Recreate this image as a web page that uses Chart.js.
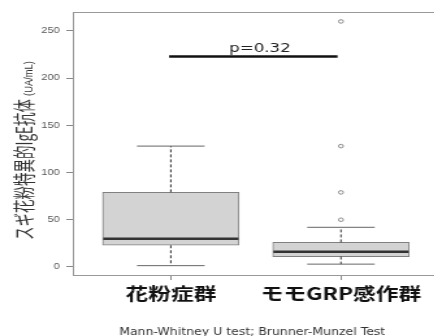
<!doctype html>
<html>
<head>
<meta charset="utf-8">
<title>Box Plot</title>
<script src="https://cdn.jsdelivr.net/npm/chart.js@4.4.0/dist/chart.umd.min.js"></script>
<style>
  html, body { margin: 0; padding: 0; background: #fff; overflow: hidden; }
  /* the source picture is stretched sideways, so draw narrow and widen */
  #wrap { width: 334px; height: 336px; transform: scaleX(1.3); transform-origin: 0 0; }
  #box-chart { display: block; }
</style>
</head>
<body>
<div id="wrap"><canvas id="box-chart" width="334" height="336"></canvas></div>
<script>

// values
var categories = ['花粉症群', 'モモGRP感作群'];
var whiskerLow = [1.4, 3];
var q1 = [23, 11];
var median = [30, 16];
var q3 = [79, 26];
var whiskerHigh = [128, 42];
var outliers = [[], [50, 79, 128, 260]];
var yTicks = [0, 50, 100, 150, 200, 250];
var pBracket = [0.99, 1.98];
var pBracketY = 223;
var pLabel = 'p=0.32';
var footNote = 'Mann-Whitney U test; Brunner-Munzel Test';

var datasets = [];

// boxes
datasets.push({
  type: 'bar',
  data: categories.map(function (c, i) { return { x: i + 1, y: [q1[i], q3[i]] }; }),
  backgroundColor: '#d3d3d3',
  borderColor: '#808080',
  borderWidth: 1,
  borderSkipped: false,
  barThickness: 105,
  order: 5
});

// dashed whiskers
categories.forEach(function (c, i) {
  [[q3[i], whiskerHigh[i]], [q1[i], whiskerLow[i]]].forEach(function (seg) {
    datasets.push({
      type: 'line',
      data: [{ x: i + 1, y: seg[0] }, { x: i + 1, y: seg[1] }],
      borderColor: '#333',
      borderWidth: 1,
      borderDash: [3, 2],
      pointRadius: 0,
      order: 4
    });
  });
});

// whisker caps
datasets.push({
  type: 'scatter',
  data: categories.map(function (c, i) { return { x: i + 1, y: whiskerLow[i] }; })
    .concat(categories.map(function (c, i) { return { x: i + 1, y: whiskerHigh[i] }; })),
  pointStyle: 'line',
  pointRadius: 26,
  borderColor: '#666',
  borderWidth: 1,
  order: 3
});

// medians
datasets.push({
  type: 'scatter',
  data: categories.map(function (c, i) { return { x: i + 1, y: median[i] }; }),
  pointStyle: 'line',
  pointRadius: 52,
  borderColor: '#333',
  borderWidth: 2.5,
  order: 2
});

// outliers
var outPts = [];
outliers.forEach(function (list, i) {
  list.forEach(function (v) { outPts.push({ x: i + 1, y: v }); });
});
datasets.push({
  type: 'scatter',
  data: outPts,
  pointStyle: 'circle',
  pointRadius: 1.8,
  borderColor: '#888',
  backgroundColor: '#fff',
  borderWidth: 1,
  order: 1
});

// p-value bracket
datasets.push({
  type: 'line',
  data: pBracket.map(function (x) { return { x: x, y: pBracketY }; }),
  borderColor: '#111',
  borderWidth: 2.5,
  pointRadius: 0,
  order: 1
});

var extras = {
  id: 'extras',
  afterDraw: function (chart) {
    var ctx = chart.ctx;
    var area = chart.chartArea;
    var xs = chart.scales.x, ys = chart.scales.y;
    ctx.save();

    // top frame line
    ctx.strokeStyle = '#999';
    ctx.lineWidth = 1;
    ctx.beginPath();
    ctx.moveTo(area.left, area.top + 0.5);
    ctx.lineTo(area.right, area.top + 0.5);
    ctx.stroke();

    // p value
    ctx.fillStyle = '#222';
    ctx.font = '12.8px "DejaVu Sans"';
    ctx.textAlign = 'center';
    ctx.textBaseline = 'alphabetic';
    ctx.fillText(pLabel, xs.getPixelForValue(1.524), ys.getPixelForValue(pBracketY) - 4.5);

    // footnote
    ctx.save();
    ctx.translate(194, 335);
    ctx.scale(0.89, 1);
    ctx.font = '10.8px "DejaVu Sans"';
    ctx.fillStyle = '#333';
    ctx.fillText(footNote, 0, 0);
    ctx.restore();

    // y title
    ctx.save();
    ctx.translate(25, 240);
    ctx.scale(1.25, 1);
    ctx.rotate(-Math.PI / 2);
    ctx.textAlign = 'left';
    ctx.fillStyle = '#333';
    ctx.font = '13.5px "Noto Sans CJK JP"';
    var main = 'スギ花粉特異的IgE抗体';
    ctx.fillText(main, 0, 0);
    var w = ctx.measureText(main).width;
    ctx.restore();
    ctx.save();
    ctx.translate(25, 240 - w - 3);
    ctx.rotate(-Math.PI / 2);
    ctx.textAlign = 'left';
    ctx.fillStyle = '#333';
    ctx.font = '9.4px "Liberation Sans"';
    ctx.fillText('(UA/mL)', 0, 0);
    ctx.restore();

    ctx.restore();
  }
};

new Chart(document.getElementById('box-chart'), {
  type: 'bar',
  data: { datasets: datasets },
  options: {
    responsive: false,
    animation: false,
    events: [],
    layout: { autoPadding: false, padding: { top: 12, left: 0, right: 0, bottom: 0 } },
    plugins: { legend: { display: false }, tooltip: { enabled: false } },
    scales: {
      x: {
        type: 'linear',
        offset: false,
        min: 0.424,
        max: 2.548,
        afterBuildTicks: function (s) { s.ticks = categories.map(function (c, i) { return { value: i + 1 }; }); },
        afterFit: function (s) { s.height = 61; },
        ticks: {
          autoSkip: false,
          maxRotation: 0,
          padding: 3,
          color: '#111',
          font: { family: 'Noto Sans CJK JP', size: 17.5, weight: 'bold' },
          callback: function (v, i) { return categories[i]; }
        },
        grid: { drawOnChartArea: false, offset: false, tickLength: 5, color: '#888' },
        border: { color: '#999' }
      },
      y: {
        min: -8.5,
        max: 270,
        afterBuildTicks: function (s) { s.ticks = yTicks.map(function (v) { return { value: v }; }); },
        afterFit: function (s) { s.width = 56; },
        ticks: {
          padding: 5,
          color: '#555',
          font: { family: 'Liberation Sans', size: 8.5 }
        },
        grid: { drawOnChartArea: false, tickLength: 5, color: '#888' },
        border: { color: '#999' }
      }
    }
  },
  plugins: [extras]
});

</script>
</body>
</html>
